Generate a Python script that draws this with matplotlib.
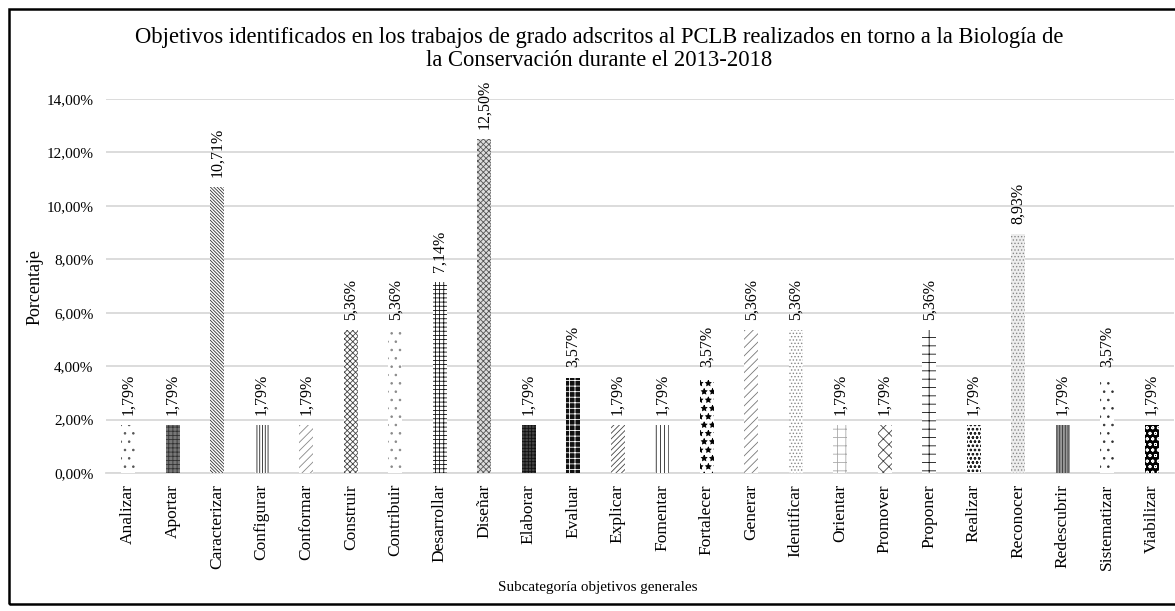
import numpy as np
import matplotlib
matplotlib.use('Agg')
import matplotlib.pyplot as plt
from matplotlib.patches import Rectangle
from matplotlib.ticker import FuncFormatter

# Datos del gráfico
categorias = ['Analizar', 'Aportar', 'Caracterizar', 'Configurar', 'Conformar',
              'Construir', 'Contribuir', 'Desarrollar', 'Diseñar', 'Elaborar',
              'Evaluar', 'Explicar', 'Fomentar', 'Fortalecer', 'Generar',
              'Identificar', 'Orientar', 'Promover', 'Proponer', 'Realizar',
              'Reconocer', 'Redescubrir', 'Sistematizar', 'Viabilizar']
porcentajes = [1.79, 1.79, 10.71, 1.79, 1.79, 5.36, 5.36, 7.14, 12.50, 1.79,
               3.57, 1.79, 1.79, 3.57, 5.36, 5.36, 1.79, 1.79, 5.36, 1.79,
               8.93, 1.79, 3.57, 1.79]
y_ticks = [0, 2, 4, 6, 8, 10, 12, 14]

# tramas (hatch, color de relleno, color de trama)
tramas = [
    ('..', 'white', '#555555'),
    ('++++', '#777777', '#333333'),
    ('\\' * 10, 'white', '#333333'),
    ('||||||', 'white', '#222222'),
    ('////', 'white', '#888888'),
    ('xxxxxx', 'white', '#444444'),
    ('..', 'white', '#888888'),
    ('++++', 'white', '#111111'),
    ('xxxxxx', '#dddddd', '#555555'),
    ('+++++', '#444444', '#111111'),
    ('+++', '#111111', 'white'),
    ('//////', 'white', '#444444'),
    ('||||', 'white', '#222222'),
    ('**', 'white', 'black'),
    ('////', 'white', '#777777'),
    ('.....', 'white', '#888888'),
    ('++', 'white', '#aaaaaa'),
    ('xxx', 'white', '#444444'),
    ('++', 'white', '#111111'),
    ('oooo', 'white', '#222222'),
    ('.....', '#eeeeee', '#888888'),
    ('||||||', '#999999', '#333333'),
    ('..', 'white', '#333333'),
    ('ooo', 'black', 'white'),
]

plt.rcParams['font.family'] = ['Liberation Serif', 'DejaVu Serif']
plt.rcParams['hatch.linewidth'] = 0.6

fig = plt.figure(figsize=(11.75, 6.11), dpi=100)
ax = fig.add_axes([106 / 1175, 1 - 473 / 611, 1068 / 1175, 374 / 611])

x = np.arange(len(categorias))
for i, v in enumerate(porcentajes):
    h, fc, ec = tramas[i]
    ax.bar(x[i], v, width=0.32, color=fc, edgecolor=ec, hatch=h, linewidth=0, zorder=3)
    ax.text(x[i], v + 0.38, f'{v:.2f}%'.replace('.', ','), rotation=90,
            ha='center', va='bottom', fontsize=11.5, zorder=4)

ax.set_xlim(-0.5, len(categorias) - 0.5)
ax.set_ylim(0, 14)
ax.set_yticks(y_ticks)
ax.yaxis.set_major_formatter(FuncFormatter(lambda v, p: f'{v:.2f}%'.replace('.', ',')))
ax.set_xticks(x)
ax.set_xticklabels(categorias, rotation=90, fontsize=12.5)
ax.tick_params(axis='x', length=0, pad=8)
ax.tick_params(axis='y', length=0, pad=9, labelsize=11)
ax.grid(axis='y', color='#d9d9d9', linewidth=1.3, zorder=0)
for s in ['top', 'right', 'left']:
    ax.spines[s].set_visible(False)
ax.spines['bottom'].set_color('#d9d9d9')
ax.spines['bottom'].set_linewidth(1.3)
ax.set_axisbelow(True)

fig.text(35 / 1175, 1 - 287 / 611, 'Porcentaje', rotation=90, ha='center', va='center', fontsize=13)
fig.text(598 / 1175, 1 - 587 / 611, 'Subcategoría objetivos generales', ha='center', va='center', fontsize=10.9)
fig.text(599 / 1175, 1 - 49 / 611,
         'Objetivos identificados en los trabajos de grado adscritos al PCLB realizados en torno a la Biología de\n'
         'la Conservación durante el 2013-2018',
         ha='center', va='center', fontsize=16.3, linespacing=1.1)

# marco exterior
fig.patches.append(Rectangle((9 / 1175, 1 - 604 / 611), 1.2, 595 / 611, transform=fig.transFigure,
                             fill=False, edgecolor='black', linewidth=1.8))

plt.savefig('out.png', dpi=100)
